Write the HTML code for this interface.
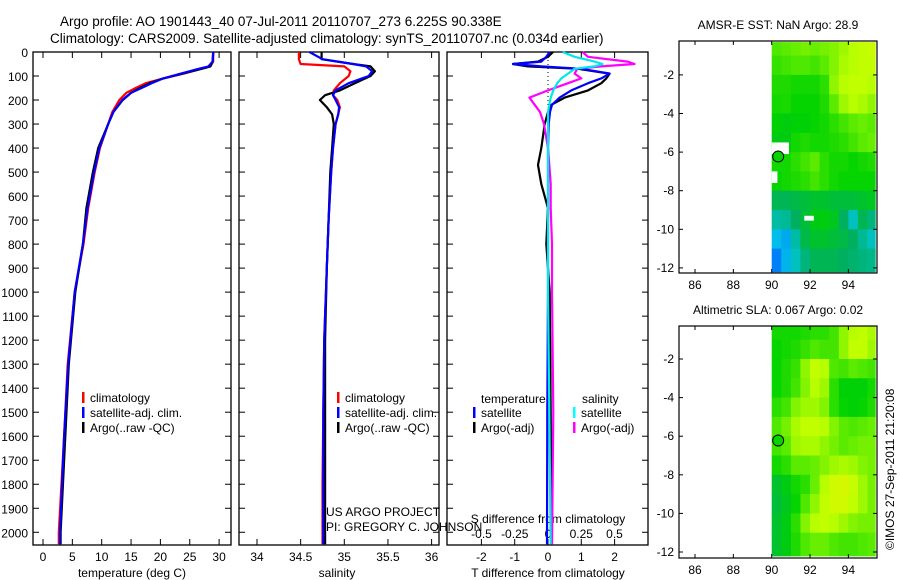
<!DOCTYPE html>
<html><head><meta charset="utf-8"><title>Argo profile</title>
<style>
html,body{margin:0;padding:0;background:#fff;}
svg{display:block;font-family:"Liberation Sans",sans-serif;}
text{fill:#000;}
</style></head>
<body>
<svg id="fig" width="900" height="580" viewBox="0 0 900 580" xmlns="http://www.w3.org/2000/svg">
<text x="60" y="26" font-size="13.5">Argo profile: AO 1901443_40 07-Jul-2011 20110707_273 6.225S 90.338E</text>
<text x="50" y="43" font-size="13.5">Climatology: CARS2009. Satellite-adjusted climatology: synTS_20110707.nc (0.034d earlier)</text>
<g id="g"></g>
<text font-size="12" transform="translate(894,550) rotate(-90)">©IMOS 27-Sep-2011 21:20:08</text>
</svg>
<script>
// ---------- data ----------
var depths      = [0, 40, 60, 70, 90, 110, 130, 150, 170, 200, 250, 300, 400, 500, 650, 800, 1000, 1300, 1600, 2000, 2050];
var tempClim    = [29, 29, 28.5, 27, 24, 20.5, 17.5, 15.8, 14.2, 13, 11.8, 11.1, 9.7, 8.8, 7.7, 6.9, 5.4, 4.2, 3.6, 2.7, 2.7];
var tempSat     = [29, 28.9, 28.2, 26.5, 23.5, 20.5, 18.5, 16.8, 15, 13.5, 12, 11.1, 9.6, 8.7, 7.6, 6.8, 5.4, 4.3, 3.6, 2.9, 2.9];
var tempArgo    = [29, 28.9, 28.5, 27, 23.8, 20.5, 18.2, 16.5, 15, 13.6, 12, 11.1, 9.4, 8.5, 7.4, 6.8, 5.5, 4.4, 3.8, 3.0, 3.0];

var salDepths   = [0, 30, 50, 60, 80, 100, 130, 160, 180, 200, 230, 260, 300, 400, 500, 700, 900, 1200, 1500, 1800, 2050];
var salClim     = [34.48, 34.48, 34.5, 35.0, 35.07, 35.05, 34.95, 34.88, 34.87, 34.92, 34.95, 34.93, 34.9, 34.87, 34.85, 34.82, 34.8, 34.77, 34.76, 34.75, 34.75];
var salSat      = [34.6, 34.75, 35.1, 35.25, 35.32, 35.28, 35.05, 34.9, 34.87, 34.9, 34.94, 34.93, 34.9, 34.87, 34.85, 34.82, 34.8, 34.77, 34.76, 34.76, 34.76];
var salArgo     = [34.74, 34.74, 35.1, 35.3, 35.35, 35.3, 35.12, 34.95, 34.78, 34.72, 34.8, 34.86, 34.88, 34.86, 34.84, 34.82, 34.8, 34.78, 34.78, 34.78, 34.78];

var difDepths   = [0, 20, 40, 50, 60, 70, 90, 110, 130, 160, 190, 220, 250, 300, 400, 470, 550, 650, 800, 1000, 1500, 2050];
var tDiffSat    = [0.05, -0.05, -0.2, -1.05, -0.2, 1.0, 1.85, 1.6, 1.2, 0.7, 0.35, 0.12, 0.06, 0.02, 0.0, 0.0, 0.0, 0.0, 0.0, 0.0, -0.02, -0.03];
var tDiffArgo   = [0.15, 0.0, -0.3, -1.05, -0.6, 0.9, 1.85, 1.75, 1.6, 1.2, 0.5, 0.1, 0.0, -0.1, -0.2, -0.3, -0.2, 0.0, -0.05, 0.05, 0.08, 0.1];
var sDiffSat    = [0.11, 0.2, 0.35, 0.41, 0.35, 0.2, 0.15, 0.1, 0.07, 0.04, 0.02, 0.01, 0.0, 0.0, 0.0, 0.0, 0.0, 0.0, 0.0, 0.0, 0.01, 0.02];
var sDiffArgo   = [0.26, 0.3, 0.6, 0.65, 0.4, 0.22, 0.2, 0.25, 0.15, 0.0, -0.14, -0.1, -0.06, -0.03, 0.0, 0.01, 0.02, 0.02, 0.03, 0.03, 0.04, 0.03];

var depthTicks  = [0,100,200,300,400,500,600,700,800,900,1000,1100,1200,1300,1400,1500,1600,1700,1800,1900,2000];
var tempTicks   = [0,5,10,15,20,25,30];
var salTicks    = [34,34.5,35,35.5,36];
var tDiffTicks  = [-2,-1,0,1,2];
var sDiffTicks  = [-0.5,-0.25,0,0.25,0.5];
var lonTicks    = [86,88,90,92,94];
var latTicks    = [-2,-4,-6,-8,-10,-12];

// map grids: rows lat -0.3..-12.2 (1 deg), cols lon 90..95.5 (0.5 deg); value 0 (blue) .. 1 (yellow)
var sstGrid = [
 [0.68,0.70,0.72,0.74,0.72,0.74,0.76,0.80,0.84,0.86,0.88],
 [0.64,0.66,0.68,0.68,0.66,0.70,0.76,0.82,0.84,0.86,0.86],
 [0.60,0.60,0.58,0.58,0.58,0.62,0.78,0.84,0.86,0.86,0.84],
 [0.58,0.59,0.56,0.56,0.56,0.60,0.70,0.80,0.84,0.82,0.78],
 [0.54,0.53,0.54,0.54,0.56,0.58,0.62,0.66,0.70,0.72,0.70],
 [0.52,0.52,0.58,0.60,0.58,0.58,0.60,0.62,0.66,0.70,0.72],
 [0.58,0.58,0.62,0.66,0.70,0.62,0.58,0.58,0.56,0.58,0.60],
 [0.56,0.58,0.60,0.62,0.66,0.62,0.58,0.56,0.56,0.56,0.56],
 [0.42,0.42,0.44,0.46,0.48,0.48,0.46,0.46,0.46,0.48,0.50],
 [0.30,0.32,0.40,0.46,0.52,0.53,0.50,0.40,0.26,0.42,0.36],
 [0.18,0.14,0.30,0.44,0.48,0.48,0.46,0.44,0.40,0.32,0.26],
 [0.06,0.16,0.26,0.36,0.42,0.42,0.42,0.40,0.38,0.36,0.34]
];
var slaGrid = [
 [0.58,0.58,0.58,0.60,0.62,0.62,0.66,0.78,0.84,0.86,0.82],
 [0.56,0.58,0.60,0.64,0.68,0.66,0.66,0.78,0.86,0.86,0.80],
 [0.56,0.60,0.64,0.78,0.86,0.84,0.68,0.66,0.70,0.68,0.66],
 [0.56,0.60,0.66,0.76,0.84,0.80,0.62,0.54,0.54,0.54,0.58],
 [0.62,0.66,0.76,0.80,0.80,0.76,0.62,0.56,0.54,0.56,0.60],
 [0.68,0.74,0.82,0.86,0.86,0.84,0.76,0.70,0.68,0.70,0.72],
 [0.66,0.70,0.80,0.82,0.82,0.78,0.74,0.70,0.72,0.74,0.74],
 [0.58,0.62,0.70,0.70,0.72,0.76,0.80,0.82,0.80,0.76,0.74],
 [0.48,0.52,0.58,0.62,0.72,0.84,0.90,0.92,0.88,0.80,0.74],
 [0.46,0.50,0.56,0.68,0.78,0.86,0.90,0.90,0.86,0.80,0.74],
 [0.48,0.52,0.62,0.76,0.84,0.86,0.84,0.80,0.76,0.74,0.74],
 [0.48,0.52,0.60,0.68,0.72,0.72,0.68,0.66,0.66,0.68,0.70]
];

// ---------- drawing ----------
var NS="http://www.w3.org/2000/svg";
var G=document.getElementById('g');
function mk(tag,at,parent){var e=document.createElementNS(NS,tag);for(var k in at)e.setAttribute(k,at[k]);(parent||G).appendChild(e);return e;}
function txt(x,y,s,size,anchor,name){var t=mk('text',{x:x,y:y,'font-size':size,'text-anchor':anchor||'start'});t.textContent=s;


return t;}

var PY0=52, PY1=545;
function yD(d){return PY0+(d/2053)*(PY1-PY0);}

function panel(x0,x1,name){
  var r=mk('rect',{x:x0,y:PY0,width:x1-x0,height:PY1-PY0,fill:'none',stroke:'#000','stroke-width':1.3});
  
  
  depthTicks.forEach(function(d){
    var y=yD(d);
    mk('line',{x1:x0,y1:y,x2:x0+6,y2:y,stroke:'#000'});
    mk('line',{x1:x1,y1:y,x2:x1-6,y2:y,stroke:'#000'});
  });
}
function xticks(vals,fx,x0,label,ty,name){
  vals.forEach(function(v){
    var x=fx(v);
    mk('line',{x1:x,y1:PY0,x2:x,y2:PY0+6,stroke:'#000'});
    mk('line',{x1:x,y1:PY1,x2:x,y2:PY1-6,stroke:'#000'});
    txt(x,ty,String(v),12,'middle',name+'-tick-label');
  });
}
function profile(xs,ds,fx,color,name,w){
  var pts=xs.map(function(v,i){return fx(v).toFixed(1)+','+yD(ds[i]).toFixed(1);}).join(' ');
  var p=mk('polyline',{points:pts,fill:'none',stroke:color,'stroke-width':w||2.2,'stroke-linejoin':'round'});
  
  
}
function legend(x,y,items,name){
  items.forEach(function(it,i){
    var yy=y+i*15;
    mk('rect',{x:x,y:yy-10,width:2.5,height:11,fill:it[1]});
    txt(x+8,yy,it[0],12,'start',name);
  });
}

// Panel 1: temperature
var fT=function(t){return 43+t*5.87;};
panel(33,231,'temperature-panel');
depthTicks.forEach(function(d){txt(28,yD(d)+5,String(d),12,'end','depth-tick-label');});
xticks(tempTicks,fT,33,'',561,'temperature');
txt(132,577,'temperature (deg C)',12,'middle','temperature-axis-title');
profile(tempClim,depths,fT,'#ff0000','temp-climatology-line');
profile(tempArgo,depths,fT,'#000000','temp-argo-line');
profile(tempSat,depths,fT,'#0000ff','temp-satellite-line');
legend(82,402,[['climatology','#f00'],['satellite-adj. clim.','#00f'],['Argo(..raw -QC)','#000']],'temperature-legend-entry');

// Panel 2: salinity
var fS=function(s){return 257+(s-34)*87.3;};
panel(239,439,'salinity-panel');
xticks(salTicks,fS,239,'',561,'salinity');
txt(337,577,'salinity',12,'middle','salinity-axis-title');
profile(salClim,salDepths,fS,'#ff0000','sal-climatology-line');
profile(salArgo,salDepths,fS,'#000000','sal-argo-line');
profile(salSat,salDepths,fS,'#0000ff','sal-satellite-line');
legend(337,402,[['climatology','#f00'],['satellite-adj. clim.','#00f'],['Argo(..raw -QC)','#000']],'salinity-legend-entry');
txt(326,516,'US ARGO PROJECT',12,'start','project-label');
txt(326,531,'PI: GREGORY C. JOHNSON',12,'start','pi-label');

// Panel 3: differences
var fDT=function(v){return 548+v*33.3;};
var fDS=function(v){return 548+v*133;};
panel(447,648,'difference-panel');
tDiffTicks.forEach(function(v){var x=fDT(v);
  mk('line',{x1:x,y1:PY0,x2:x,y2:PY0+6,stroke:'#000'});
  mk('line',{x1:x,y1:PY1,x2:x,y2:PY1-6,stroke:'#000'});
  txt(x,561,String(v),12,'middle','t-diff-tick-label');});
sDiffTicks.forEach(function(v){txt(fDS(v),538,String(v),12,'middle','s-diff-tick-label');});
mk('line',{x1:fDT(0),y1:PY0,x2:fDT(0),y2:yD(250),stroke:'#000','stroke-dasharray':'1,3'});
txt(548,523,'S difference from climatology',12,'middle','s-diff-axis-title');
txt(548,577,'T difference from climatology',12,'middle','t-diff-axis-title');
profile(tDiffArgo,difDepths,fDT,'#000000','t-diff-argo-line');
profile(sDiffArgo,difDepths,fDS,'#ff00ff','s-diff-argo-line');
profile(tDiffSat,difDepths,fDT,'#0000ff','t-diff-satellite-line');
profile(sDiffSat,difDepths,fDS,'#00e8e8','s-diff-satellite-line');
txt(481,403,'temperature',12,'start','legend-temperature-heading');
txt(582,403,'salinity',12,'start','legend-salinity-heading');
legend(473,417,[['satellite','#00f'],['Argo(-adj)','#000']],'t-diff-legend-entry');
legend(573,417,[['satellite','#0ff'],['Argo(-adj)','#f0f']],'s-diff-legend-entry');

// Maps
var stops=[[0,[0,96,255]],[0.2,[0,200,230]],[0.4,[0,176,96]],[0.55,[0,210,0]],[0.7,[90,235,0]],[0.85,[190,255,0]],[1,[240,240,0]]];
function cmap(v){for(var i=1;i<stops.length;i++){if(v<=stops[i][0]){var a=stops[i-1],b=stops[i],t=(v-a[0])/(b[0]-a[0]);
 return 'rgb('+a[1].map(function(c,k){return Math.round(c+(b[1][k]-c)*t);}).join(',')+')';}}return 'rgb(240,240,0)';}

function drawMap(grid,top,bottom,lat0y,title,name,gaps){
  var fx=function(lon){return 695+(lon-86)*19.17;};
  var fy=function(lat){return lat0y-lat*19.3;};
  txt(778,top-12,title,12,'middle',name+'-title');
  grid.forEach(function(row,r){row.forEach(function(v,c){
    var la0=(r===0?-0.3:-r), la1=(r===11?-12.2:-(r+1));
    var lo0=90+c*0.5, lo1=Math.min(95.4,lo0+0.5);
    var cell=mk('rect',{x:fx(lo0).toFixed(1),y:fy(la0).toFixed(1),width:(fx(lo1)-fx(lo0)+0.5).toFixed(1),height:(fy(la1)-fy(la0)+0.5).toFixed(1),fill:cmap(v)});
    
    
  });});
  (gaps||[]).forEach(function(g){mk('rect',{x:fx(g[0]),y:fy(g[1]),width:fx(g[2])-fx(g[0]),height:fy(g[3])-fy(g[1]),fill:'#fff'});});
  var c=mk('circle',{cx:fx(90.338),cy:fy(-6.225),r:5.5,fill:cmap(0.56),stroke:'#000','stroke-width':1});
  
  
  var fr=mk('rect',{x:679,y:top,width:198,height:bottom-top,fill:'none',stroke:'#000','stroke-width':1.2});
  
  
  lonTicks.forEach(function(l){var x=fx(l);
    mk('line',{x1:x,y1:top,x2:x,y2:top+4,stroke:'#000'});
    mk('line',{x1:x,y1:bottom,x2:x,y2:bottom-4,stroke:'#000'});
    txt(x,bottom+16,String(l),12,'middle',name+'-lon-label');});
  latTicks.forEach(function(l){var y=fy(l);
    mk('line',{x1:679,y1:y,x2:683,y2:y,stroke:'#000'});
    mk('line',{x1:877,y1:y,x2:873,y2:y,stroke:'#000'});
    txt(674,y+4,String(l),12,'end',name+'-lat-label');});
}
drawMap(sstGrid,41,273,36.3,'AMSR-E SST: NaN Argo: 28.9','sst-map',[[90,-5.5,90.9,-6.1],[90,-7,90.3,-7.6],[91.7,-9.3,92.2,-9.55]]);
drawMap(slaGrid,326,558,320.4,'Altimetric SLA: 0.067 Argo: 0.02','sla-map',[]);
</script>
</body></html>
